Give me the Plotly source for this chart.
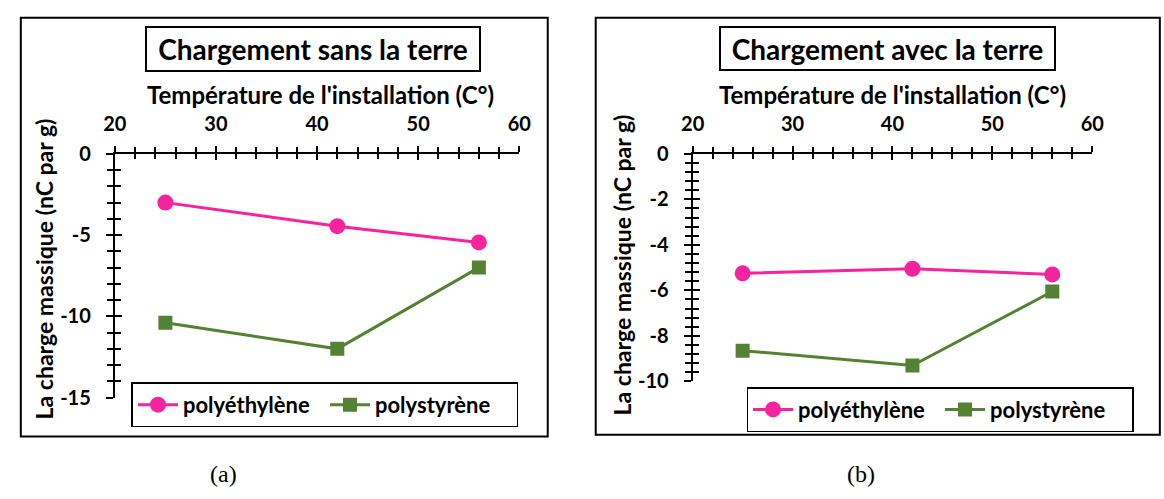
import plotly.graph_objects as go

W, H = 1164, 499

temps = [25, 42, 56]
pe_sans = [-3.0, -4.45, -5.45]
ps_sans = [-10.4, -12.0, -7.0]
pe_avec = [-5.25, -5.05, -5.3]
ps_avec = [-8.65, -9.3, -6.05]

x_ticks = [20, 30, 40, 50, 60]
y_ticks_sans = [0, -5, -10, -15]
y_ticks_avec = [0, -2, -4, -6, -8, -10]
series_names = ["polyéthylène", "polystyrène"]
titles = ["Chargement sans la terre", "Chargement avec la terre"]
x_title = "Température de l'installation (C°)"
y_title = "La charge massique (nC par g)"
captions = ["(a)", "(b)"]

PINK = "#F5239D"
GREEN = "#548235"
FONT = "Lato"


def fx(p):
    return p / W


def fy(p):
    return 1 - p / H


def ylabel(v):
    # the source uses a plain hyphen for negatives
    return str(v).replace("−", "-")


fig = go.Figure()

# panel geometry in pixels
panels = [
    dict(x0=105, x1=518, y0=148, y1=404, yr=[-15, 0], yt=y_ticks_sans, mdt=1,
         pe=pe_sans, ps=ps_sans, leg="legend", lx=122, ly=388),
    dict(x0=695, x1=1103, y0=148, y1=387, yr=[-10, 0], yt=y_ticks_avec, mdt=0.4,
         pe=pe_avec, ps=ps_avec, leg="legend2", lx=750, ly=393),
]

layout = {}
for i, p in enumerate(panels):
    n = 2 * i + 1  # main axes
    m = 2 * i + 2  # overlay axes for the inner half of the crossing ticks
    sfx = "" if n == 1 else str(n)
    xa, ya = "x" + sfx, "y" + sfx
    xb, yb = f"x{m}", f"y{m}"

    fig.add_trace(go.Scatter(
        x=temps, y=p["pe"], name=series_names[0], mode="lines+markers",
        line=dict(color=PINK, width=3), marker=dict(symbol="circle", size=16, color=PINK),
        xaxis=xa, yaxis=ya, legend=p["leg"]))
    fig.add_trace(go.Scatter(
        x=temps, y=p["ps"], name=series_names[1], mode="lines+markers",
        line=dict(color=GREEN, width=3), marker=dict(symbol="square", size=14, color=GREEN),
        xaxis=xa, yaxis=ya, legend=p["leg"]))
    fig.add_trace(go.Scatter(x=[], y=[], xaxis=xb, yaxis=yb, showlegend=False, hoverinfo="skip"))

    xdom = [fx(p["x0"]), fx(p["x1"])]
    ydom = [fy(p["y1"]), fy(p["y0"])]
    tickfont = dict(family=FONT, size=20, color="black", weight="bold")

    layout["xaxis" + sfx] = dict(
        domain=xdom, range=[20, 60], side="top", anchor=ya, showgrid=False, zeroline=False,
        showline=True, linecolor="black", linewidth=2, tickmode="array", tickvals=x_ticks,
        ticks="outside", ticklen=6, tickwidth=2, tickcolor="black", ticklabelstandoff=7,
        minor=dict(dtick=2, tick0=20, ticks="outside", ticklen=5, tickwidth=1.5, tickcolor="black", showgrid=False),
        tickfont=tickfont, fixedrange=True)
    layout["yaxis" + sfx] = dict(
        domain=ydom, range=p["yr"], anchor=xa, showgrid=False, zeroline=False,
        showline=True, linecolor="black", linewidth=2, tickmode="array", tickvals=p["yt"],
        ticktext=[ylabel(v) for v in p["yt"]],
        ticks="outside", ticklen=7, tickwidth=2, tickcolor="black", ticklabelstandoff=11,
        minor=dict(dtick=p["mdt"], tick0=0, ticks="outside", ticklen=6, tickwidth=1.5, tickcolor="black", showgrid=False),
        tickfont=tickfont, fixedrange=True)
    layout[f"xaxis{m}"] = dict(
        overlaying=xa, anchor=ya, side="top", range=[20, 60], showgrid=False, zeroline=False,
        showline=False, tickmode="array", tickvals=x_ticks, ticks="inside", ticklen=6, tickwidth=2,
        tickcolor="black", showticklabels=False,
        minor=dict(dtick=2, tick0=20, ticks="inside", ticklen=5, tickwidth=1.5, tickcolor="black", showgrid=False),
        fixedrange=True)
    layout[f"yaxis{m}"] = dict(
        overlaying=ya, anchor=xa, range=p["yr"], showgrid=False, zeroline=False, showline=False,
        tickmode="array", tickvals=p["yt"], ticks="inside", ticklen=7, tickwidth=2, tickcolor="black",
        showticklabels=False,
        minor=dict(dtick=p["mdt"], tick0=0, ticks="inside", ticklen=6, tickwidth=1.5, tickcolor="black", showgrid=False),
        fixedrange=True)

    layout[p["leg"]] = dict(
        x=fx(p["lx"]), y=fy(p["ly"]), xanchor="left", yanchor="top", orientation="h",
        bordercolor="black", borderwidth=1.5, bgcolor="white",
        font=dict(family=FONT, size=22, color="black", weight="bold"),
        itemwidth=40, tracegroupgap=0, entrywidth=137, entrywidthmode="pixels")

fig.update_layout(**layout)

shapes = [
    dict(type="rect", xref="paper", yref="paper", x0=fx(9), x1=fx(547), y0=fy(445), y1=fy(5),
         line=dict(color="black", width=2)),
    dict(type="rect", xref="paper", yref="paper", x0=fx(596), x1=fx(1172), y0=fy(443), y1=fy(5),
         line=dict(color="black", width=2)),
]

annotations = []
title_boxes = [(139, 475, 15, 61), (725, 1062, 15, 60)]
for t, (a, b, c, d) in zip(titles, title_boxes):
    annotations.append(dict(
        text=t, xref="paper", yref="paper", x=fx((a + b) / 2), y=fy((c + d) / 2),
        xanchor="center", yanchor="middle", showarrow=False,
        width=b - a - 4, height=d - c - 4, borderpad=0, bordercolor="black", borderwidth=2,
        font=dict(family=FONT, size=28, color="black", weight="bold")))

for cx in (315, 899):
    annotations.append(dict(
        text=x_title, xref="paper", yref="paper", x=fx(cx), y=fy(86),
        xanchor="center", yanchor="middle", showarrow=False,
        font=dict(family=FONT, size=24, color="black", weight="bold")))

for cx, cy in ((33, 269), (623, 265)):
    annotations.append(dict(
        text=y_title, xref="paper", yref="paper", x=fx(cx), y=fy(cy), textangle=-90,
        xanchor="center", yanchor="middle", showarrow=False,
        font=dict(family=FONT, size=23, color="black", weight="bold")))

for lab, cx in zip(captions, (216, 867)):
    annotations.append(dict(
        text=lab, xref="paper", yref="paper", x=fx(cx), y=fy(484),
        xanchor="center", yanchor="middle", showarrow=False,
        font=dict(family="Liberation Serif", size=24, color="black")))

fig.update_layout(
    width=W, height=H, margin=dict(l=0, r=0, t=0, b=0),
    paper_bgcolor="white", plot_bgcolor="white",
    shapes=shapes, annotations=annotations,
)

fig.write_html("out.html", config={"displayModeBar": False},
               post_script="document.body.style.margin='0';")
